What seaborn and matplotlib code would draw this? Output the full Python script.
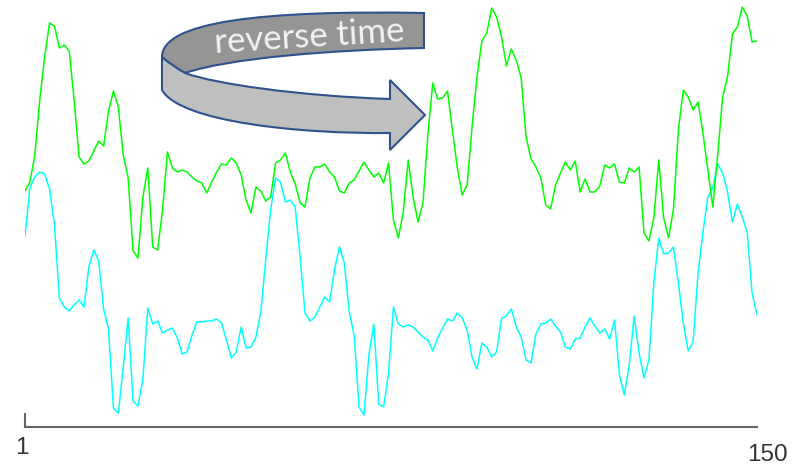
import numpy as np
import pandas as pd
import seaborn as sns
import matplotlib.pyplot as plt
from matplotlib.path import Path
from matplotlib.patches import PathPatch

# series (height above the axis line, 150 samples each)
green = [236, 245, 272, 327, 370, 404, 401, 379, 382, 376,
         327, 270, 263, 266, 276, 286, 281, 316, 336, 320,
         272, 249, 176, 169, 230, 259, 180, 177, 217, 275,
         259, 255, 257, 255, 250, 246, 244, 234, 245, 255,
         263, 262, 269, 264, 252, 227, 214, 240, 236, 226,
         230, 264, 267, 274, 255, 243, 224, 220, 249, 260,
         260, 263, 255, 250, 236, 234, 244, 247, 256, 265,
         257, 250, 254, 244, 264, 207, 189, 215, 267, 230,
         205, 224, 292, 344, 328, 329, 336, 297, 259, 232,
         242, 300, 350, 386, 394, 419, 410, 390, 361, 378,
         367, 349, 290, 268, 260, 249, 222, 218, 242, 254,
         265, 257, 266, 235, 248, 235, 235, 241, 262, 259,
         263, 245, 244, 259, 255, 260, 194, 186, 209, 267,
         209, 189, 218, 297, 337, 330, 317, 325, 294, 257,
         220, 272, 330, 350, 393, 400, 420, 411, 385, 386]

cyan = [191, 239, 250, 255, 253, 238, 202, 129, 120, 116,
        122, 127, 120, 160, 177, 166, 118, 98, 19, 14,
        60, 109, 26, 21, 48, 119, 103, 106, 94, 97,
        99, 89, 73, 75, 92, 105, 105, 106, 106, 108,
        104, 87, 69, 75, 100, 79, 80, 90, 115, 167,
        217, 249, 245, 225, 227, 220, 170, 114, 106, 110,
        120, 130, 125, 157, 180, 164, 115, 92, 20, 12,
        72, 103, 23, 20, 54, 120, 103, 100, 102, 100,
        95, 90, 87, 76, 89, 99, 108, 106, 114, 109,
        97, 70, 58, 84, 80, 70, 75, 109, 111, 118,
        100, 90, 67, 64, 93, 103, 104, 108, 101, 95,
        80, 78, 88, 89, 100, 109, 101, 94, 98, 88,
        107, 52, 32, 62, 111, 74, 49, 67, 144, 189,
        173, 174, 180, 144, 104, 76, 85, 154, 195, 230,
        239, 263, 254, 235, 205, 223, 210, 195, 134, 112]

t = np.arange(1, 151)
df = pd.concat([
    pd.DataFrame({'t': t, 'value': green, 'series': 'green'}),
    pd.DataFrame({'t': t, 'value': cyan, 'series': 'cyan'}),
], ignore_index=True)

sns.set_style('white')
plt.rcParams['font.family'] = ['Liberation Sans', 'DejaVu Sans']

W, H = 794, 466
fig = plt.figure(figsize=(W / 100, H / 100), dpi=100)
ax = fig.add_axes([25 / W, (H - 427) / H, 732 / W, 427 / H])

sns.lineplot(data=df, x='t', y='value', hue='series',
             palette={'green': '#00ff00', 'cyan': '#00ffff'},
             hue_order=['cyan', 'green'], estimator=None,
             linewidth=1.1, legend=False, ax=ax)

ax.set_xlim(1, 150)
ax.set_ylim(0, 427)
ax.set_xlabel('')
ax.set_ylabel('')
ax.set_yticks([])
ax.set_xticks([1])
ax.tick_params(axis='x', bottom=True, direction='in', length=10, width=1.5,
               color='#666666', labelbottom=False)
for side in ['top', 'right', 'left']:
    ax.spines[side].set_visible(False)
ax.spines['bottom'].set_color('#666666')
ax.spines['bottom'].set_linewidth(1.5)
ax.patch.set_alpha(0)

ax.annotate('1', xy=(1, 0), xytext=(-2.2, -19.4), textcoords='offset points',
            ha='center', va='baseline', fontsize=17.5, color='#333333')
ax.annotate('150', xy=(150, 0), xytext=(7.2, -24.3), textcoords='offset points',
            ha='center', va='baseline', fontsize=17.5, color='#333333')

# the curled "reverse time" arrow, drawn in pixel space on an overlay
ov = fig.add_axes([0, 0, 1, 1])
ov.set_xlim(0, W)
ov.set_ylim(H, 0)
ov.axis('off')
ov.patch.set_alpha(0)

M, C4, C3, L, CL = Path.MOVETO, Path.CURVE4, Path.CURVE3, Path.LINETO, Path.CLOSEPOLY
edge = '#2f528f'

back = Path([(162, 57), (162, 22), (260, 10), (424, 13), (424, 48),
             (330, 50), (230, 58), (185, 73), (172, 66), (162, 57), (162, 57)],
            [M, C4, C4, C4, L, C4, C4, C4, C3, C3, CL])
ov.add_patch(PathPatch(back, facecolor='#959595', edgecolor=edge, lw=1.5,
                       joinstyle='miter'))

front = Path([(162, 57), (172, 66), (185, 73), (215, 84), (300, 96), (390, 99),
              (390, 80), (425, 115), (390, 150), (390, 133),
              (300, 134), (180, 122), (162, 90), (162, 57), (162, 57)],
             [M, C3, C3, C4, C4, C4, L, L, L, L, C4, C4, C4, L, CL])
ov.add_patch(PathPatch(front, facecolor='#bfbfbf', edgecolor=edge, lw=1.5,
                       joinstyle='miter'))

ov.text(309, 37, 'reverse time', ha='center', va='center', rotation=3.6,
        rotation_mode='anchor', fontsize=25, color='#f2f2f2',
        family=['Lato', 'DejaVu Sans'])

fig.savefig('out.png', dpi=100)
